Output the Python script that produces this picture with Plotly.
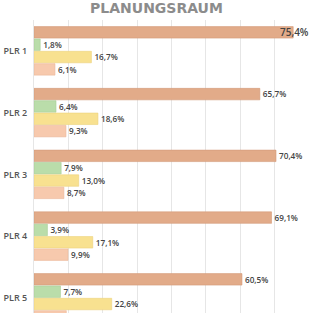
import plotly.graph_objects as go

categories = ["PLR 1", "PLR 2", "PLR 3", "PLR 4", "PLR 5"]
series_a = [75.4, 65.7, 70.4, 69.1, 60.5]
series_b = [1.8, 6.4, 7.9, 3.9, 7.7]
series_c = [16.7, 18.6, 13.0, 17.1, 22.6]
series_d = [6.1, 9.3, 8.7, 9.9, 9.4]

colors = ["#E2AB89", "#BADDAA", "#F8E190", "#F7C9AD"]
lines = ["#D49A78", "#A8CF98", "#EDD27C", "#EBB99C"]

XMAX = 80
FIT_LIMIT = 72  # outside labels beyond this would not fit in the plot
label_font = dict(family="Open Sans", size=10, color="#444444", weight=600)

fig = go.Figure()
annotations = []
for k, (vals, c, lc) in enumerate(zip([series_a, series_b, series_c, series_d], colors, lines)):
    texts = [("" if v > FIT_LIMIT else f"{v:.1f}%".replace(".", ",")) for v in vals]
    fig.add_trace(go.Bar(
        y=categories, x=vals, orientation="h",
        marker=dict(color=c, line=dict(color=lc, width=0.6)),
        text=texts, textposition="outside",
        textfont=label_font,
        cliponaxis=True, showlegend=False, hoverinfo="skip",
    ))
    for i, v in enumerate(vals):
        if v > FIT_LIMIT:
            offset = -0.4 + 0.2 * k + 0.1
            annotations.append(dict(
                x=XMAX, y=i + offset, xref="x", yref="y",
                text=f"{v:.1f}%".replace(".", ","), showarrow=False,
                xanchor="right", yanchor="middle", font=label_font, xshift=2,
            ))

fig.update_layout(
    width=313, height=313,
    margin=dict(l=34, r=4, t=20, b=0),
    paper_bgcolor="white", plot_bgcolor="white",
    barmode="group", bargap=0.2, bargroupgap=0.07,
    separators=",.",
    annotations=annotations,
    title=dict(text="PLANUNGSRAUM", x=0.5, xanchor="center", y=0.975, yanchor="middle",
               font=dict(family="DejaVu Sans", size=14, color="#8C8C8C", weight="bold")),
    xaxis=dict(range=[0, XMAX], dtick=10, showgrid=True, gridcolor="#E6E6E6", gridwidth=1,
               showticklabels=False, zeroline=False, showline=False, fixedrange=True),
    yaxis=dict(range=[4.245, -0.5], type="category", showgrid=False, zeroline=False,
               showline=True, linecolor="#E6E6E6", linewidth=1,
               ticks="outside", ticklen=4, tickcolor="rgba(0,0,0,0)",
               tickfont=dict(family="Open Sans", size=9, color="#555555", weight=600)),
)

fig.write_html("out.html")
